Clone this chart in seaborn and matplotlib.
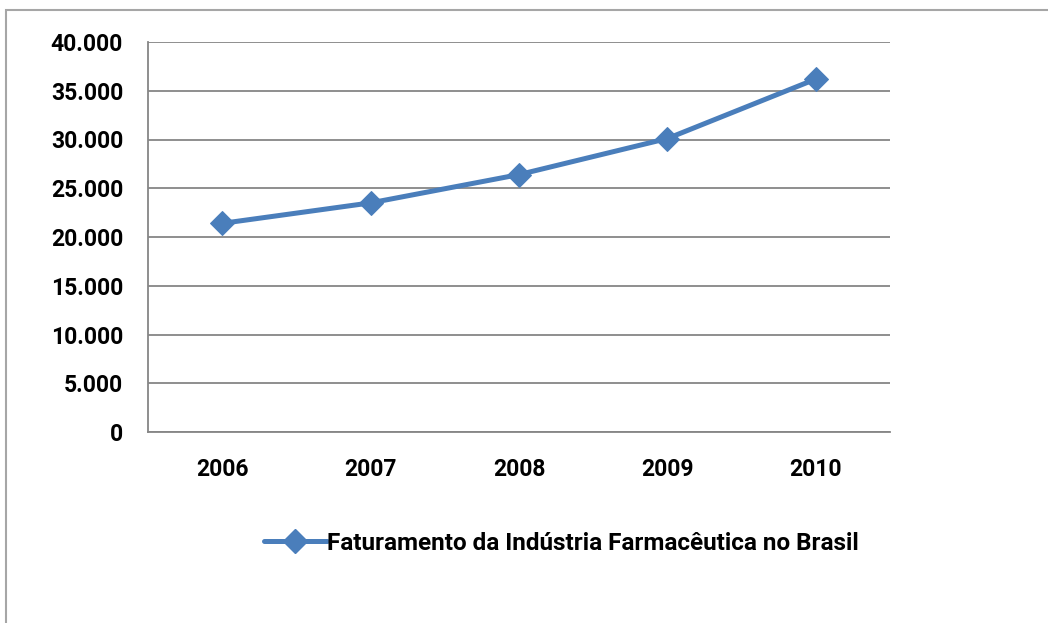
import numpy as np
import pandas as pd
import seaborn as sns
import matplotlib.pyplot as plt
from matplotlib.patches import Rectangle
from matplotlib.lines import Line2D

#%% data
anos = ['2006', '2007', '2008', '2009', '2010']
faturamento = [21400, 23500, 26400, 30100, 36200]
yTicks = [0, 5000, 10000, 15000, 20000, 25000, 30000, 35000, 40000]
yLabels = ['0', '5.000', '10.000', '15.000', '20.000', '25.000', '30.000', '35.000', '40.000']
serieNome = 'Faturamento da Indústria Farmacêutica no Brasil'

df = pd.DataFrame({'ano': anos, 'faturamento': faturamento})

#%% plot settings
sns.set_style('white')
plt.rcParams['font.family'] = ['Roboto', 'DejaVu Sans']
plt.rcParams['font.weight'] = 'bold'
plt.rcParams['text.color'] = 'black'
plt.rcParams['xtick.labelcolor'] = 'black'
plt.rcParams['ytick.labelcolor'] = 'black'

W, H = 1048, 623
fig = plt.figure(figsize=(W / 100, H / 100), dpi=100)
fig.patch.set_facecolor('white')

# chart area frame (cut off at right/bottom like the screenshot)
fig.patches.append(Rectangle((6 / W, -0.1), 1.2, 1 - 10 / H + 0.1, transform=fig.transFigure,
                             fill=False, edgecolor='#a6a6a6', linewidth=1.5))

ax = fig.add_axes([148 / W, (H - 432) / H, 742 / W, 390 / H])
blue = '#4a7ebb'
sns.lineplot(data=df, x='ano', y='faturamento', ax=ax, color=blue, linewidth=3.6,
             marker='D', markersize=12.5, markeredgecolor=blue, label=serieNome, legend=False)

ax.set_xlim(-0.5, len(anos) - 0.5)
ax.set_ylim(0, 40000)
ax.set_yticks(yTicks)
ax.set_yticklabels(yLabels)
ax.set_xticks(range(len(anos)))
ax.set_xticklabels(anos)
ax.set_xticks(np.arange(-0.5, len(anos)), minor=True)
ax.tick_params(axis='x', which='major', length=0, pad=19, labelsize=16.5, labelcolor='black')
ax.tick_params(axis='x', which='minor', length=7, width=1.3, color='#868686', direction='out')
ax.tick_params(axis='y', length=7, width=1.3, color='#868686', pad=11, labelsize=16.5,
               labelcolor='black')
for lab in ax.get_xticklabels() + ax.get_yticklabels():
    lab.set_fontweight('bold')

ax.set_xlabel('')
ax.set_ylabel('')
ax.grid(axis='y', color='#868686', linewidth=1.3)
ax.set_axisbelow(True)
for side in ['top', 'right']:
    ax.spines[side].set_visible(False)
for side in ['left', 'bottom']:
    ax.spines[side].set_color('#868686')
    ax.spines[side].set_linewidth(1.3)

handle = Line2D([], [], color=blue, linewidth=3.6, marker='D', markersize=12.5, markeredgecolor=blue)
fig.legend([handle], [serieNome], loc='center', bbox_to_anchor=(561 / W, 1 - 543 / H),
           frameon=False, prop={'weight': 'bold', 'size': 17.5}, handlelength=2.6,
           handletextpad=0.0, borderaxespad=0, labelcolor='black')

fig.savefig('out.png', dpi=100)
